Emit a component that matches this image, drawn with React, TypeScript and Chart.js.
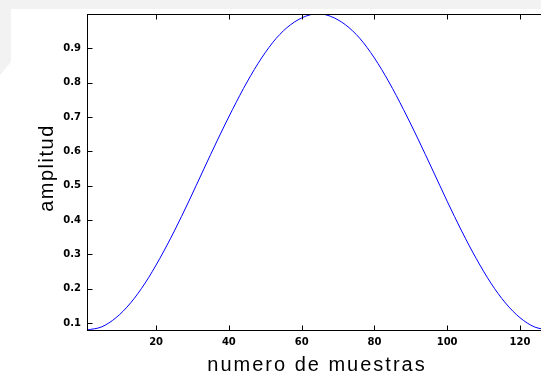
import React, { useEffect, useRef } from "react";
import { Chart, registerables } from "chart.js";

Chart.register(...registerables);

// sample index (n) and amplitude
const sampleN = [1, 5, 9, 13, 17, 21, 25, 29, 33, 37, 41, 45, 49, 53, 57, 61, 64, 65, 68, 72, 76, 80, 84, 88, 92, 96, 100, 104, 108, 112, 116, 120, 124, 128];
const amplitude = [0.08, 0.089, 0.116, 0.159, 0.217, 0.288, 0.368, 0.455, 0.546, 0.636, 0.722, 0.802, 0.872, 0.929, 0.969, 0.993, 1.0, 1.0, 0.993, 0.969, 0.929, 0.872, 0.802, 0.722, 0.636, 0.546, 0.455, 0.368, 0.288, 0.217, 0.159, 0.116, 0.089, 0.08];
const xTicks = [20, 40, 60, 80, 100, 120];
const yTicks = [0.1, 0.2, 0.3, 0.4, 0.5, 0.6, 0.7, 0.8, 0.9];
const xTitle = "numero de muestras";
const yTitle = "amplitud";

const W = 564;
const H = 374;

export default function App() {
  const ref = useRef<HTMLCanvasElement | null>(null);
  useEffect(() => {
    const canvas = ref.current!;
    const framePlugin = {
      id: "frame",
      beforeDraw(chart: any) {
        const ctx = chart.ctx;
        ctx.save();
        ctx.fillStyle = "#ffffff";
        ctx.fillRect(0, 0, W, H);
        ctx.fillStyle = "#f2f2f2";
        ctx.fillRect(0, 0, W, 9);
        ctx.beginPath();
        ctx.moveTo(0, 9);
        ctx.lineTo(11, 9);
        ctx.lineTo(11, 62);
        ctx.lineTo(0, 75);
        ctx.closePath();
        ctx.fill();
        ctx.restore();
      },
      afterDraw(chart: any) {
        const ctx = chart.ctx;
        const a = chart.chartArea;
        const xs = chart.scales.x;
        const ys = chart.scales.y;
        const L = Math.round(a.left) + 0.5;
        const R = Math.round(a.right) + 0.5;
        const T = Math.round(a.top) + 0.5;
        const B = Math.round(a.bottom) + 0.5;
        ctx.save();
        ctx.strokeStyle = "#000000";
        ctx.lineWidth = 1;
        ctx.strokeRect(L, T, R - L, B - T);
        ctx.beginPath();
        const tl = 5;
        xTicks.forEach((v) => {
          const px = Math.round(xs.getPixelForValue(v)) + 0.5;
          ctx.moveTo(px, B);
          ctx.lineTo(px, B - tl);
          ctx.moveTo(px, T);
          ctx.lineTo(px, T + tl);
        });
        yTicks.forEach((v) => {
          const py = Math.round(ys.getPixelForValue(v)) + 0.5;
          ctx.moveTo(L, py);
          ctx.lineTo(L + tl, py);
          ctx.moveTo(R, py);
          ctx.lineTo(R - tl, py);
        });
        ctx.stroke();

        ctx.fillStyle = "#000000";
        ctx.font = "20px 'Liberation Sans', Arial, sans-serif";
        (ctx as any).letterSpacing = "2px";
        ctx.textAlign = "center";
        ctx.textBaseline = "alphabetic";
        ctx.fillText(xTitle, 317, 371);
        (ctx as any).letterSpacing = "1.5px";
        ctx.translate(53, 168);
        ctx.rotate(-Math.PI / 2);
        ctx.fillText(yTitle, 0, 0);
        ctx.restore();
      },
    };

    const chart = new Chart(canvas, {
      type: "line",
      data: {
        datasets: [
          {
            data: sampleN.map((n, i) => ({ x: n, y: amplitude[i] })),
            borderColor: "#0000ff",
            borderWidth: 1,
            pointRadius: 0,
            fill: false,
            cubicInterpolationMode: "monotone",
          },
        ],
      },
      options: {
        animation: false,
        responsive: false,
        devicePixelRatio: 1,
        layout: { padding: { top: 14, right: 15, left: 0, bottom: 0 } },
        plugins: { legend: { display: false }, tooltip: { enabled: false } },
        scales: {
          x: {
            type: "linear",
            min: 1,
            max: 128,
            grid: { display: false, drawTicks: false },
            border: { display: false },
            afterBuildTicks: (s: any) => {
              s.ticks = xTicks.map((v) => ({ value: v }));
            },
            afterFit: (s: any) => {
              s.height = 44;
            },
            ticks: {
              color: "#000",
              padding: 6,
              maxRotation: 0,
              autoSkip: false,
              font: { family: "'DejaVu Sans', sans-serif", size: 10, weight: "bold" },
              callback: (v: any) => String(v),
            },
          },
          y: {
            type: "linear",
            min: 0.08,
            max: 1,
            grid: { display: false, drawTicks: false },
            border: { display: false },
            afterBuildTicks: (s: any) => {
              s.ticks = yTicks.map((v) => ({ value: v }));
            },
            afterFit: (s: any) => {
              s.width = 87;
            },
            ticks: {
              color: "#000",
              padding: 6,
              autoSkip: false,
              font: { family: "'DejaVu Sans', sans-serif", size: 10, weight: "bold" },
              callback: (v: any) => Number(v).toFixed(1),
            },
          },
        },
      },
      plugins: [framePlugin],
    } as any);
    return () => chart.destroy();
  }, []);

  return (
    <div
      style={{
        position: "fixed",
        left: 0,
        top: 0,
        width: 541,
        height: 374,
        overflow: "hidden",
        background: "#fff",
      }}
    >
      <canvas ref={ref} width={W} height={H} style={{ width: W, height: H, display: "block" }} />
    </div>
  );
}
